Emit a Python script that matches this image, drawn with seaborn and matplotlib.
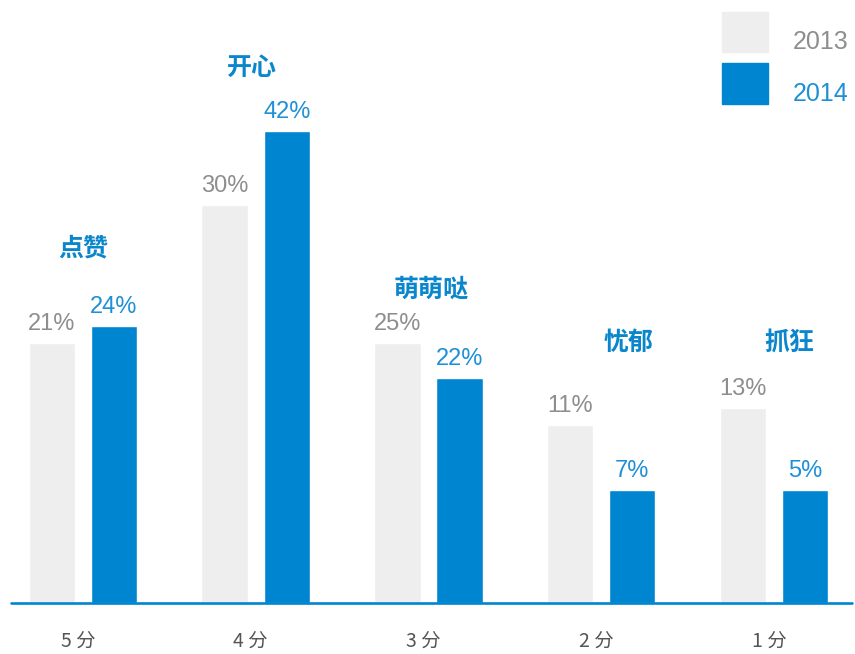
import pandas as pd
import numpy as np
import matplotlib
matplotlib.use("Agg")
import matplotlib.pyplot as plt
import matplotlib.transforms as mtransforms
from matplotlib.patches import Rectangle
import seaborn as sns

# ======================
# DATA
# ======================
scores = ["5分", "4分", "3分", "2分", "1分"]
moods = ["点赞", "开心", "萌萌哒", "忧郁", "抓狂"]
years = ["2013", "2014"]

pct_2013 = [21, 30, 25, 11, 13]
pct_2014 = [24, 42, 22, 7, 5]

# bar heights as drawn in the picture (not proportional to the labels)
height_2013 = [26.0, 39.8, 26.0, 17.8, 19.5]
height_2014 = [27.7, 47.2, 22.5, 11.3, 11.3]

df = pd.DataFrame({
    "score": scores * 2,
    "year": [years[0]] * 5 + [years[1]] * 5,
    "height": height_2013 + height_2014,
    "pct": pct_2013 + pct_2014,
})

# ======================
# STYLE
# ======================
GRAY_BAR = "#EEEEEE"
BLUE_BAR = "#0086D1"
GRAY_TXT = "#8E8E8E"
BLUE_TXT = "#1E90D6"
MOOD_TXT = "#0A86CC"
CJK = ["Noto Sans CJK SC", "DejaVu Sans"]

sns.set_theme(style="white")
plt.rcParams["font.family"] = ["Liberation Sans", "Noto Sans CJK SC", "DejaVu Sans"]

fig = plt.figure(figsize=(8.55, 6.54), dpi=100)
ax = fig.add_axes([11 / 855, 51 / 654, 841 / 855, 603 / 654])

sns.barplot(
    data=df, x="score", y="height", hue="year",
    order=scores, hue_order=years,
    palette=[GRAY_BAR, BLUE_BAR],
    width=0.718, gap=0.25, ax=ax, saturation=1, legend=False,
)

ax.set_xlim(-0.417, 4.452)
ax.set_ylim(0, 60.3)

# percent labels
for cont, pcts, col in zip(ax.containers, [pct_2013, pct_2014], [GRAY_TXT, BLUE_TXT]):
    ax.bar_label(cont, labels=[f"{p}%" for p in pcts], padding=6,
                 fontsize=17, color=col)

# mood annotations (offsets from group centre / taller bar)
mood_dx = [0.0, -0.02, 0.015, 0.16, 0.087]
mood_dy = [7.8, 6.3, 5.3, 8.2, 6.5]
for i, m in enumerate(moods):
    top = max(height_2013[i], height_2014[i])
    ax.text(i + mood_dx[i], top + mood_dy[i], m, ha="center", va="center",
            fontsize=18, fontweight="bold", color=MOOD_TXT, family=CJK)

# baseline
ax.axhline(0, color=BLUE_BAR, lw=1.9, clip_on=False, zorder=5)

ax.set_xticks(range(len(scores)))
ax.set_xticklabels([s[0] + " " + s[1:] for s in scores], fontsize=14,
                   color="#555555", family=CJK)
ax.tick_params(axis="x", length=0, pad=20)
shift = mtransforms.ScaledTranslation(-5 / 100, 0, fig.dpi_scale_trans)
for lab in ax.get_xticklabels():
    lab.set_transform(lab.get_transform() + shift)
ax.set_yticks([])
ax.set_xlabel("")
ax.set_ylabel("")
sns.despine(ax=ax, left=True, bottom=True)

# legend (drawn by hand: swatch + label)
W, H = 855, 654
for (y0, y1, ty), col, tcol, yr in zip([(12, 52, 42), (63, 104, 94)],
                                       [GRAY_BAR, BLUE_BAR], [GRAY_TXT, BLUE_TXT], years):
    fig.patches.append(Rectangle((722 / W, 1 - y1 / H), 46 / W, (y1 - y0) / H,
                                 transform=fig.transFigure, color=col))
    fig.text(793 / W, 1 - ty / H, yr, ha="left", va="center",
             fontsize=18, color=tcol)

fig.savefig("out.png", dpi=100)
